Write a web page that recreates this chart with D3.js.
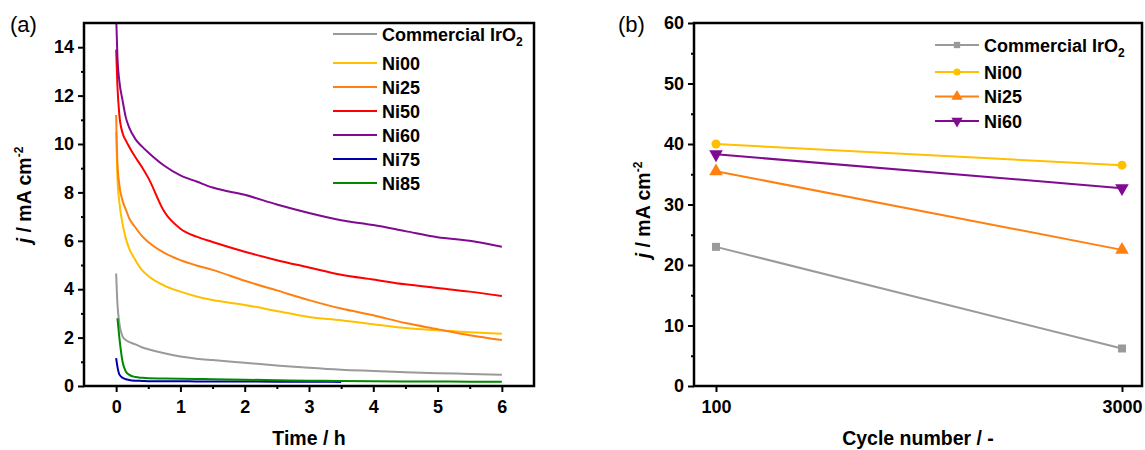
<!DOCTYPE html>
<html lang="en">
<head>
<meta charset="UTF-8">
<title>Stability of catalysts</title>
<script src="https://d3js.org/d3.v7.min.js"></script>
<style>
  body{margin:0;background:#fff}
  svg{display:block;font-family:Arial,"Liberation Sans",Helvetica,sans-serif}
  .tick text{font-size:18px;font-weight:bold;fill:#000}
  .tick line{stroke:#000;stroke-width:2px}
  .domain{display:none}
  .ttl{font-size:19.5px;font-weight:bold;fill:#000}
  .leg{font-size:18px;font-weight:bold;fill:#000}
  .pnl{font-size:22px;fill:#000}
</style>
</head>
<body>
<svg id="chart" width="1145" height="450"></svg>
<script>
/* --- data: panel (a), current vs time --- */
const namesA=["Commercial IrO2","Ni00","Ni25","Ni50","Ni60","Ni75","Ni85"];
const timeH=[0,0.02,0.05,0.1,0.15,0.2,0.3,0.4,0.5,0.75,1,1.25,1.5,2,2.5,3,3.5,4,4.5,5,5.5,6];
const jIrO2=[4.65,3.4,2.6,2.05,1.9,1.82,1.72,1.6,1.52,1.35,1.22,1.13,1.07,0.96,0.85,0.75,0.67,0.62,0.57,0.53,0.5,0.46];
const jNi00=[10.5,8.6,7.6,6.7,6.1,5.7,5.2,4.8,4.55,4.15,3.9,3.7,3.55,3.35,3.1,2.85,2.72,2.55,2.4,2.3,2.22,2.16];
const jNi25=[11.2,9.2,8.3,7.65,7.3,6.95,6.55,6.2,5.95,5.5,5.2,4.98,4.8,4.35,3.95,3.55,3.2,2.92,2.6,2.35,2.1,1.9];
const jNi50=[13.9,12.4,11.2,10.45,10.15,9.9,9.45,9.05,8.6,7.2,6.5,6.17,5.95,5.55,5.2,4.9,4.6,4.4,4.2,4.05,3.9,3.72];
const jNi60=[15.3,13.6,12.6,11.8,11.1,10.7,10.2,9.9,9.65,9.1,8.7,8.45,8.2,7.9,7.5,7.15,6.85,6.65,6.4,6.15,6.0,5.75];
const jNi75=[1.15,0.8,0.48,0.34,0.28,0.25,0.22,0.21,0.2,0.2,0.2,0.19,0.19,0.19,0.18,0.18,0.17,null,null,null,null,null];
const jNi85=[null,2.8,2.0,1.0,0.6,0.47,0.37,0.34,0.32,0.31,0.3,0.29,0.28,0.26,0.24,0.22,0.21,0.2,0.19,0.19,0.18,0.18];
const valuesA=[jIrO2,jNi00,jNi25,jNi50,jNi60,jNi75,jNi85];
const xTicksA=[0,1,2,3,4,5,6];
const yTicksA=[0,2,4,6,8,10,12,14];

/* --- data: panel (b), current vs cycle number --- */
const namesB=["Commercial IrO2","Ni00","Ni25","Ni60"];
const cycles=[100,3000];
const bIrO2=[23.0,6.2];
const bNi00=[40.0,36.5];
const bNi25=[35.5,22.5];
const bNi60=[38.3,32.7];
const valuesB=[bIrO2,bNi00,bNi25,bNi60];
const yTicksB=[0,10,20,30,40,50,60];

/* --- styles --- */
const colour={"Commercial IrO2":"#9a9a9a","Ni00":"#ffc000","Ni25":"#ff8010","Ni50":"#ff0000",
              "Ni60":"#800a90","Ni75":"#0000a8","Ni85":"#008a00"};
const marker={"Commercial IrO2":{t:d3.symbolSquare,r:0},"Ni00":{t:d3.symbolCircle,r:0},
              "Ni25":{t:d3.symbolTriangle,r:0},"Ni60":{t:d3.symbolTriangle,r:180}};

const svg=d3.select("#chart");

function frame(P){
  svg.append("rect").attr("x",P.l).attr("y",P.t).attr("width",P.r-P.l).attr("height",P.b-P.t)
     .attr("fill","none").attr("stroke","#000").attr("stroke-width",2.5);
}
function nameText(sel,name){
  if(name.endsWith("IrO2")){
    sel.append("tspan").text("Commercial IrO");
    sel.append("tspan").attr("font-size",12).attr("dy",5).text("2");
  }else sel.text(name);
}
function yTitle(x,y){
  const t=svg.append("text").attr("class","ttl").attr("text-anchor","middle")
             .attr("transform",`translate(${x},${y}) rotate(-90)`);
  t.append("tspan").attr("font-style","italic").text("j");
  t.append("tspan").text(" / mA cm");
  t.append("tspan").attr("font-size",12).attr("dy",-8).text("-2");
}

/* --- panel (a) --- */
const A={l:84,r:534,t:23,b:386};
const xA=d3.scaleLinear().domain([-0.5,6.5]).range([A.l,A.r]);
const yA=d3.scaleLinear().domain([0,15]).range([A.b,A.t]);

svg.append("clipPath").attr("id","clipA").append("rect")
   .attr("x",A.l).attr("y",A.t).attr("width",A.r-A.l).attr("height",A.b-A.t);

svg.append("g").attr("transform",`translate(0,${A.b})`)
   .call(d3.axisBottom(xA).tickValues(xTicksA).tickSize(6).tickPadding(8).tickFormat(d3.format("d")));
svg.append("g").attr("transform",`translate(0,${A.b})`)
   .call(d3.axisBottom(xA).tickValues(d3.range(0.5,6,1)).tickSize(3).tickFormat(""));
svg.append("g").attr("transform",`translate(${A.l},0)`)
   .call(d3.axisLeft(yA).tickValues(yTicksA).tickSize(6).tickPadding(4));
svg.append("g").attr("transform",`translate(${A.l},0)`)
   .call(d3.axisLeft(yA).tickValues(d3.range(1,15,2)).tickSize(3).tickFormat(""));

const lineA=d3.line().defined(d=>d[1]!=null)
              .x(d=>xA(d[0])).y(d=>yA(d[1])).curve(d3.curveMonotoneX);
const gLines=svg.append("g").attr("clip-path","url(#clipA)");
namesA.forEach((n,i)=>{
  gLines.append("path").datum(timeH.map((t,k)=>[t,valuesA[i][k]]))
        .attr("d",lineA).attr("fill","none")
        .attr("stroke",colour[n]).attr("stroke-width",2);
});
frame(A);

/* legend (a) */
namesA.forEach((n,i)=>{
  const y=i===0?34:63+(i-1)*24;
  svg.append("line").attr("x1",333).attr("x2",377).attr("y1",y).attr("y2",y)
     .attr("stroke",colour[n]).attr("stroke-width",2);
  nameText(svg.append("text").attr("class","leg").attr("x",382).attr("y",y+6.5),n);
});

svg.append("text").attr("class","ttl").attr("text-anchor","middle")
   .attr("x",(A.l+A.r)/2).attr("y",445).text("Time / h");
yTitle(31,195);
svg.append("text").attr("class","pnl").attr("x",10).attr("y",32).text("(a)");

/* --- panel (b) --- */
const B={l:694,r:1142,t:23,b:386};
const xB=d3.scaleLinear().domain([-57,3143]).range([B.l,B.r]);
const yB=d3.scaleLinear().domain([0,60]).range([B.b,B.t]);

svg.append("g").attr("transform",`translate(0,${B.b})`)
   .call(d3.axisBottom(xB).tickValues(cycles).tickSize(6).tickPadding(8).tickFormat(d3.format("d")));
svg.append("g").attr("transform",`translate(${B.l},0)`)
   .call(d3.axisLeft(yB).tickValues(yTicksB).tickSize(6).tickPadding(4));
svg.append("g").attr("transform",`translate(${B.l},0)`)
   .call(d3.axisLeft(yB).tickValues(d3.range(5,60,10)).tickSize(3).tickFormat(""));

const lineB=d3.line().x(d=>xB(d[0])).y(d=>yB(d[1]));
namesB.forEach((n,i)=>{
  const pts=cycles.map((c,k)=>[c,valuesB[i][k]]);
  svg.append("path").datum(pts).attr("d",lineB).attr("fill","none")
     .attr("stroke",colour[n]).attr("stroke-width",2);
  const m=marker[n];
  svg.selectAll(null).data(pts).join("path")
     .attr("d",d3.symbol().type(m.t).size(m.t===d3.symbolTriangle?80:64))
     .attr("transform",d=>`translate(${xB(d[0])},${yB(d[1])}) rotate(${m.r})`)
     .attr("fill",colour[n]);
});
frame(B);

/* legend (b) */
namesB.forEach((n,i)=>{
  const y=i===0?45:72+(i-1)*24.5;
  svg.append("line").attr("x1",935).attr("x2",979).attr("y1",y).attr("y2",y)
     .attr("stroke",colour[n]).attr("stroke-width",2);
  const m=marker[n];
  svg.append("path").attr("d",d3.symbol().type(m.t).size(m.t===d3.symbolTriangle?55:40))
     .attr("transform",`translate(957,${y}) rotate(${m.r})`).attr("fill",colour[n]);
  nameText(svg.append("text").attr("class","leg").attr("x",984).attr("y",y+6.5),n);
});

svg.append("text").attr("class","ttl").attr("text-anchor","middle")
   .attr("x",(B.l+B.r)/2).attr("y",445).text("Cycle number / -");
yTitle(650,210);
svg.append("text").attr("class","pnl").attr("x",618).attr("y",32).text("(b)");
</script>
</body>
</html>
